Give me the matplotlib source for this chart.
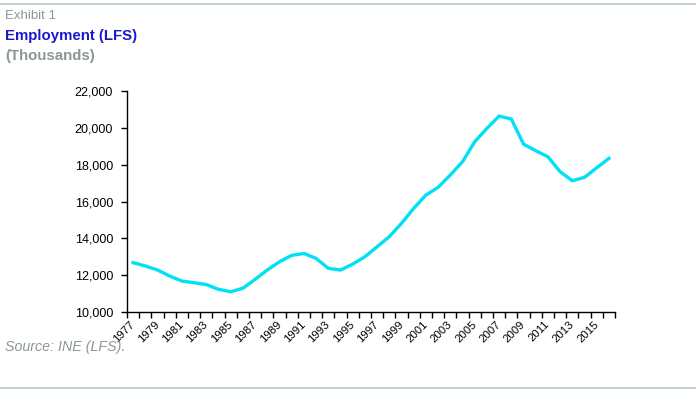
import matplotlib
matplotlib.use("Agg")
import matplotlib.pyplot as plt
from matplotlib.lines import Line2D
import matplotlib.transforms as mtransforms
import numpy as np

plt.rcParams['font.family'] = ['Liberation Sans', 'DejaVu Sans']

years = list(range(1977, 2017))
employment = [12680, 12500, 12280, 11950, 11680, 11590, 11490, 11230, 11100, 11290,
              11775, 12280, 12730, 13075, 13180, 12910, 12370, 12280, 12600, 13000,
              13545, 14090, 14815, 15630, 16350, 16770, 17440, 18160, 19245, 19970,
              20640, 20480, 19120, 18760, 18430, 17620, 17130, 17310, 17830, 18340]
yticks = [10000, 12000, 14000, 16000, 18000, 20000, 22000]

fig = plt.figure(figsize=(6.96, 3.93), dpi=100)
ax = fig.add_axes([0.1825, 0.2061, 0.7011, 0.5623])

x = np.arange(len(years))
ax.plot(x, employment, color='#00e1f5', lw=2.4, solid_joinstyle='miter')

ax.set_xlim(-0.5, len(years) - 0.5)
ax.set_ylim(10000, 22000)
ax.set_yticks(yticks)
ax.set_yticklabels([f"{v:,}" for v in yticks], fontsize=9)

ax.set_xticks(np.arange(len(years) + 1) - 0.5)
ax.set_xticklabels([])
lab_idx = x[::2]
ax.set_xticks(lab_idx, minor=True)
ax.tick_params(axis='x', which='minor', length=0, pad=5)
ax.tick_params(axis='x', which='major', length=4, width=1, direction='out')
ax.tick_params(axis='y', length=4, width=1, direction='out', pad=6)
ax.set_xticklabels([str(years[i]) for i in lab_idx], minor=True, fontsize=8.2,
                   rotation=45, ha='right', va='top', rotation_mode='anchor')
offset = mtransforms.ScaledTranslation(-3.5/100, 0, fig.dpi_scale_trans)
for lab in ax.xaxis.get_minorticklabels():
    lab.set_transform(lab.get_transform() + offset)

for s in ['top', 'right']:
    ax.spines[s].set_visible(False)
for s in ['left', 'bottom']:
    ax.spines[s].set_linewidth(1)
    ax.spines[s].set_color('black')

# header / footer
fig.add_artist(Line2D([0, 1], [1 - 4/393, 1 - 4/393], color='#b4c6c8', lw=1.2))
fig.add_artist(Line2D([0, 1], [1 - 388/393, 1 - 388/393], color='#b4c6c8', lw=1.2))
fig.text(5/696, 1 - 16/393, "Exhibit 1", fontsize=9.5, color='#8c9696', va='center', ha='left')
fig.text(5/696, 1 - 36/393, "Employment (LFS)", fontsize=10.8, color='#1a1acc',
         fontweight='bold', va='center', ha='left')
fig.text(5/696, 1 - 56/393, "(Thousands)", fontsize=10.8, color='#8c9696',
         fontweight='bold', va='center', ha='left')
fig.text(5/696, 1 - 347/393, "Source: INE (LFS).", fontsize=10.3, color='#8c9696',
         style='italic', va='center', ha='left')

fig.savefig("out.png", dpi=100)
